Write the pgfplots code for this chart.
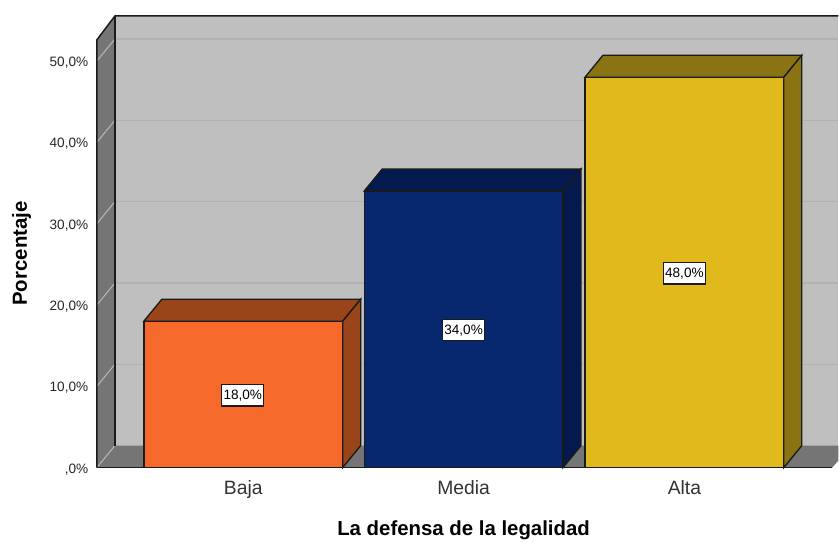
\documentclass[border=0pt]{standalone}
\usepackage{pgfplots}
\pgfplotsset{compat=1.18}
\usepackage{fontspec}
\setmainfont{Liberation Sans}
\definecolor{wallc}{HTML}{BFBFBF}
\definecolor{sidec}{HTML}{757575}
\definecolor{gridc}{HTML}{B2B2B2}
\definecolor{diagc}{HTML}{B5B5B5}
\definecolor{edgec}{HTML}{1A1A1A}
\definecolor{orangeF}{HTML}{F5692B}
\definecolor{orangeD}{HTML}{9A4419}
\definecolor{navyF}{HTML}{07276F}
\definecolor{navyD}{HTML}{041A4E}
\definecolor{yelF}{HTML}{E0BA1C}
\definecolor{yelD}{HTML}{8A7312}
\begin{document}
\begin{tikzpicture}[x=1pt,y=1pt]
\begin{axis}[
  scale only axis,
  width=556.5pt, height=339pt,
  xmin=97, xmax=839, ymin=0, ymax=55.53,
  clip=false,
  axis lines=left,
  axis line style={-, draw=none},
  major tick length=0pt,
  ytick={0,10,20,30,40,50},
  yticklabels={{,0\%},{10,0\%},{20,0\%},{30,0\%},{40,0\%},{50,0\%}},
  xtick={243.5,464,685},
  xticklabels={Baja,Media,Alta},
  yticklabel style={font=\fontsize{10.2}{12}\selectfont, color=black!85, xshift=-3pt, yshift=-1.2pt},
  xticklabel style={font=\fontsize{14.5}{16}\selectfont, color=black!80, yshift=-6.5pt},
  xlabel={La defensa de la legalidad},
  ylabel={Porcentaje},
  xlabel style={font=\bfseries\fontsize{15.3}{17}\selectfont, at={(axis cs:464,-7.65)}, anchor=center},
  ylabel style={font=\bfseries\fontsize{15.3}{17}\selectfont, at={(rel axis cs:-0.1015,0.474)}, anchor=center},
  every axis plot/.append style={forget plot},
]
% back wall
\addplot[fill=wallc, draw=none] coordinates {(115,2.7) (115,55.53) (839,55.53) (839,2.7)} --cycle;
% grid on the back wall
\addplot[gridc, line width=1pt] coordinates {(115,12.7) (839,12.7)};
\addplot[gridc, line width=1pt] coordinates {(115,22.7) (839,22.7)};
\addplot[gridc, line width=1pt] coordinates {(115,32.7) (839,32.7)};
\addplot[gridc, line width=1pt] coordinates {(115,42.7) (839,42.7)};
\addplot[gridc, line width=1pt] coordinates {(115,52.7) (839,52.7)};
% left wall
\addplot[fill=sidec, draw=none] coordinates {(97,0) (97,52.6) (115,55.53) (115,2.7)} --cycle;
% floor
\addplot[fill=sidec, draw=none] coordinates {(97,0) (115,2.7) (839,2.7) (839,0.85) (833,0)} --cycle;
% grid on the left wall
\addplot[diagc, line width=0.8pt] coordinates {(97,0) (115,2.7)};
\addplot[diagc, line width=0.8pt] coordinates {(97,10) (115,12.7)};
\addplot[diagc, line width=0.8pt] coordinates {(97,20) (115,22.7)};
\addplot[diagc, line width=0.8pt] coordinates {(97,30) (115,32.7)};
\addplot[diagc, line width=0.8pt] coordinates {(97,40) (115,42.7)};
\addplot[diagc, line width=0.8pt] coordinates {(97,50) (115,52.7)};
% frame
\addplot[edgec, line width=1.1pt] coordinates {(97,0) (97,52.6) (115,55.53) (839,55.53)};
\addplot[edgec, line width=1.1pt] coordinates {(115,2.7) (115,55.53)};
\addplot[edgec, line width=1.2pt] coordinates {(97,0) (833,0)};
% Baja 18
\addplot[fill=orangeD, draw=edgec, line width=1pt] coordinates {(144,18) (162,20.7) (361,20.7) (343,18)} --cycle;
\addplot[fill=orangeD, draw=edgec, line width=1pt] coordinates {(343,0) (361,2.7) (361,20.7) (343,18)} --cycle;
\addplot[fill=orangeF, draw=edgec, line width=1pt] coordinates {(144,0) (144,18) (343,18) (343,0)} --cycle;
% Media 34
\addplot[fill=navyD, draw=edgec, line width=1pt] coordinates {(364.5,34) (382.5,36.7) (581.5,36.7) (563.5,34)} --cycle;
\addplot[fill=navyD, draw=edgec, line width=1pt] coordinates {(563.5,0) (581.5,2.7) (581.5,36.7) (563.5,34)} --cycle;
\addplot[fill=navyF, draw=edgec, line width=1pt] coordinates {(364.5,0) (364.5,34) (563.5,34) (563.5,0)} --cycle;
% Alta 48
\addplot[fill=yelD, draw=edgec, line width=1pt] coordinates {(585.5,48) (603.5,50.7) (802.5,50.7) (784.5,48)} --cycle;
\addplot[fill=yelD, draw=edgec, line width=1pt] coordinates {(784.5,0) (802.5,2.7) (802.5,50.7) (784.5,48)} --cycle;
\addplot[fill=yelF, draw=edgec, line width=1pt] coordinates {(585.5,0) (585.5,48) (784.5,48) (784.5,0)} --cycle;
% value labels
\addplot[draw=none, point meta=explicit symbolic,
  nodes near coords={\pgfplotspointmeta},
  every node near coord/.append style={anchor=center, fill=white, draw=edgec, line width=0.8pt,
    font=\fontsize{10.2}{12}\selectfont, text=black, inner xsep=1.2pt, inner ysep=3.9pt}]
  coordinates {(243,8.9) [{18,0\%}] (464,16.9) [{34,0\%}] (685,23.9) [{48,0\%}]};
\end{axis}
\path[use as bounding box] (-72.75pt,-52.5pt) rectangle (556.5pt,351pt);
\end{tikzpicture}
\end{document}
